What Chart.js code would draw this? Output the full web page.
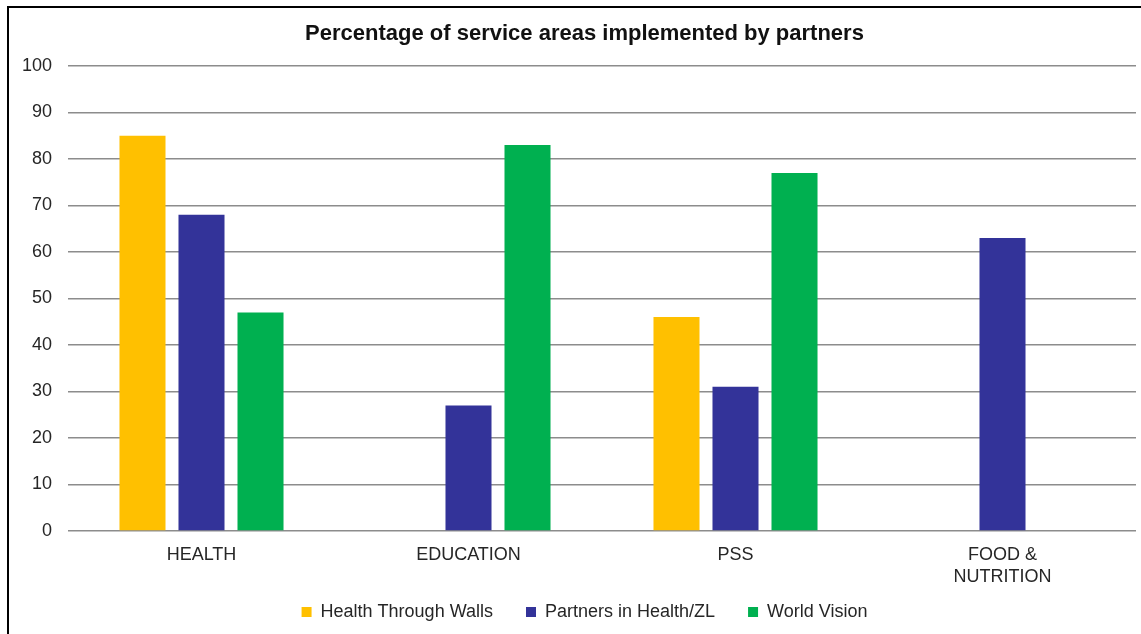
<!DOCTYPE html>
<html>
<head>
<meta charset="utf-8">
<script src="https://cdn.jsdelivr.net/npm/chart.js@4"></script>
<style>
  html, body { margin: 0; padding: 0; background: #fff; overflow: hidden; }
  #frame {
    position: absolute; left: 7px; top: 6px; width: 1200px; height: 700px;
    border-left: 2px solid #000; border-top: 2px solid #000;
  }
  #wrap { position: absolute; left: 0; top: 0; width: 1141px; height: 634px; }
</style>
</head>
<body>
<div id="frame"></div>
<div id="wrap"><canvas id="partnersChart"></canvas></div>
<script>
// ---- data ----
const categories = ['HEALTH', 'EDUCATION', 'PSS', ['FOOD &', 'NUTRITION']];
const healthThroughWalls = [85, null, 46, null];
const partnersInHealth   = [68, 27, 31, 63];
const worldVision        = [47, 83, 77, null];
const yTicks = [0, 10, 20, 30, 40, 50, 60, 70, 80, 90, 100];

const FONT = "'Liberation Sans', Arial, sans-serif";
const TEXT = '#262626';

// tick labels may spill outside their (deliberately small) axis boxes
Chart.Scale.prototype._computeLabelArea = function() { return undefined; };

function barSet(label, data, color) {
  return {
    label,
    data,
    backgroundColor: color,
    borderWidth: 0,
    categoryPercentage: 0.663,
    barPercentage: 0.78,
  };
}

const ctx = document.getElementById('partnersChart').getContext('2d');
new Chart(ctx, {
  type: 'bar',
  data: {
    labels: categories,
    datasets: [
      barSet('Health Through Walls', healthThroughWalls, '#FFC000'),
      barSet('Partners in Health/ZL', partnersInHealth, '#333399'),
      barSet('World Vision', worldVision, '#00B050'),
    ]
  },
  options: {
    responsive: true,
    maintainAspectRatio: false,
    animation: false,
    layout: {
      padding: { left: 33, right: 5, top: 0, bottom: 3 }
    },
    scales: {
      x: {
        grid: { display: false, drawTicks: false },
        border: { display: false },
        ticks: {
          color: TEXT,
          padding: 13,
          maxRotation: 0,
          font: { family: FONT, size: 18, lineHeight: 1.22 }
        },
        afterFit(scale) { scale.height = 39; }
      },
      y: {
        min: 0,
        max: 100,
        afterBuildTicks(scale) { scale.ticks = yTicks.map(v => ({ value: v })); },
        grid: { color: '#8c8c8c', lineWidth: 1.5, drawTicks: false },
        border: { display: false },
        ticks: {
          color: TEXT,
          padding: 16,
          font: { family: FONT, size: 18 }
        },
        afterFit(scale) { scale.width = 35; }
      }
    },
    plugins: {
      title: {
        display: true,
        text: 'Percentage of service areas implemented by partners',
        color: '#111',
        font: { family: FONT, size: 22, weight: 'bold', lineHeight: 1.2 },
        padding: { top: 20.5, bottom: 19.1 }
      },
      legend: {
        display: true,
        position: 'bottom',
        labels: {
          color: TEXT,
          font: { family: FONT, size: 18 },
          boxWidth: 10,
          boxHeight: 10,
          padding: 33
        }
      },
      tooltip: { enabled: false }
    }
  }
});
</script>
</body>
</html>
